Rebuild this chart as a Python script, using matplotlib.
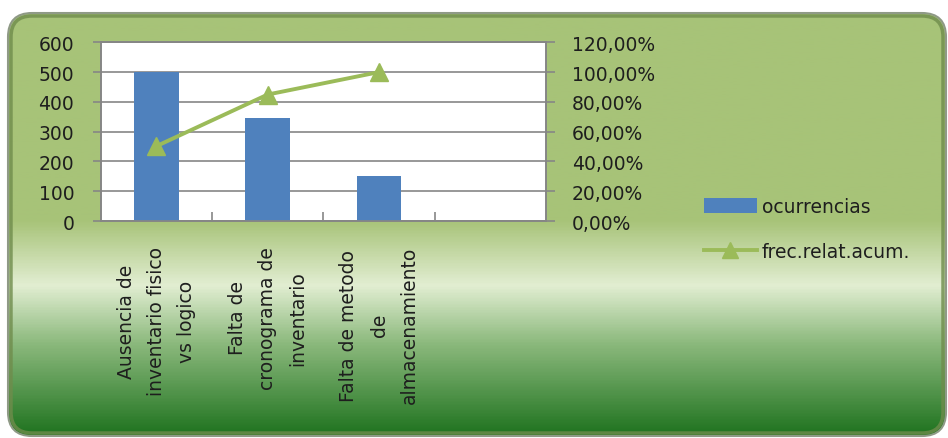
import numpy as np
import matplotlib
matplotlib.use("Agg")
import matplotlib.pyplot as plt
from matplotlib.patches import FancyBboxPatch, Patch
from matplotlib.lines import Line2D
from matplotlib.colors import LinearSegmentedColormap
from matplotlib.ticker import FuncFormatter

# data
categorias = ["Ausencia de\ninventario fisico\nvs logico",
              "Falta de\ncronograma de\ninventario",
              "Falta de metodo\nde\nalmacenamiento",
              ""]
ocurrencias = [500, 345, 150, np.nan]
frec_acum = [0.5025, 0.8492, 1.0, np.nan]

bar_color = "#4F81BD"
line_color = "#9BBB59"
grid_color = "#868686"
text_color = "#1E1E1E"

plt.rcParams["font.family"] = ["DejaVu Sans"]
plt.rcParams["font.size"] = 13.5

W, H = 948, 439
fig = plt.figure(figsize=(W / 100, H / 100), dpi=100)

# background with rounded frame and vertical gradient
bg = fig.add_axes([0, 0, 1, 1])
bg.set_xlim(0, W)
bg.set_ylim(H, 0)
bg.axis("off")
cmap = LinearSegmentedColormap.from_list("fondo", [
    (0.0, "#A7C378"), (0.49, "#A7C378"), (0.645, "#E2EED2"),
    (0.78, "#8DBA7E"), (1.0, "#1F731F")])
grad = np.linspace(0, 1, 400).reshape(-1, 1)
img = bg.imshow(grad, cmap=cmap, aspect="auto", extent=(8, 946, 437, 14))
frame = FancyBboxPatch((8, 14), 938, 423, boxstyle="round,pad=0,rounding_size=24",
                       facecolor="none", edgecolor="#8F9A86", lw=1.5)
bg.add_patch(frame)
img.set_clip_path(frame)
inner = FancyBboxPatch((11, 17), 932, 417, boxstyle="round,pad=0,rounding_size=21",
                       facecolor="none", edgecolor="#6F8C4C", lw=2.5, alpha=0.8)
bg.add_patch(inner)

# plot area
ax = fig.add_axes([100.7 / W, 1 - 222 / H, 445.3 / W, 178.7 / H])
ax.set_facecolor("white")
x = np.arange(len(categorias))
ax.bar(x, ocurrencias, width=0.4, color=bar_color, zorder=3)
ax.set_xlim(-0.5, len(categorias) - 0.5)
ax.set_ylim(0, 600)
ax.set_yticks(range(0, 601, 100))
ax.yaxis.grid(True, color=grid_color, lw=1.2, zorder=0)
ax.set_axisbelow(True)
for s in ax.spines.values():
    s.set_color(grid_color)
    s.set_linewidth(1.2)
ax.tick_params(axis="y", direction="out", length=6, width=1.2, color=grid_color,
               pad=13, labelcolor=text_color)

ax.set_xticks(x[:-1] + 0.5)
ax.set_xticklabels([])
ax.tick_params(axis="x", which="major", direction="in", length=6.5, width=1.2,
               color=grid_color)
ax.set_xticks(x, minor=True)
ax.set_xticklabels(categorias, minor=True)
ax.tick_params(axis="x", which="minor", length=0, pad=18, labelcolor=text_color)
plt.setp(ax.get_xticklabels(minor=True), rotation=90, ha="center", va="top",
         multialignment="center", linespacing=1.75)

ax2 = ax.twinx()
ax2.plot(x, frec_acum, color=line_color, lw=2.8, marker="^", markersize=13, zorder=4)
ax2.set_ylim(0, 1.2)
ax2.set_yticks(np.arange(0, 1.21, 0.2))
ax2.yaxis.set_major_formatter(FuncFormatter(lambda v, p: f"{v * 100:.2f}%".replace(".", ",")))
ax2.tick_params(axis="y", direction="out", length=6.5, width=1.2, color=grid_color,
                pad=12, labelcolor=text_color)
for s in ax2.spines.values():
    s.set_color(grid_color)
    s.set_linewidth(1.2)

handles = [Patch(facecolor=bar_color, edgecolor="none"),
           Line2D([0], [0], color=line_color, lw=2.8, marker="^", markersize=12)]
fig.legend(handles, ["ocurrencias", "frec.relat.acum."], loc="upper left",
           bbox_to_anchor=(704 / W, 1 - 198 / H), frameon=False, borderpad=0,
           borderaxespad=0, handlelength=2.8, handleheight=0.8, handletextpad=0.3,
           labelspacing=1.4, labelcolor=text_color)

fig.savefig("out.png", dpi=100)
